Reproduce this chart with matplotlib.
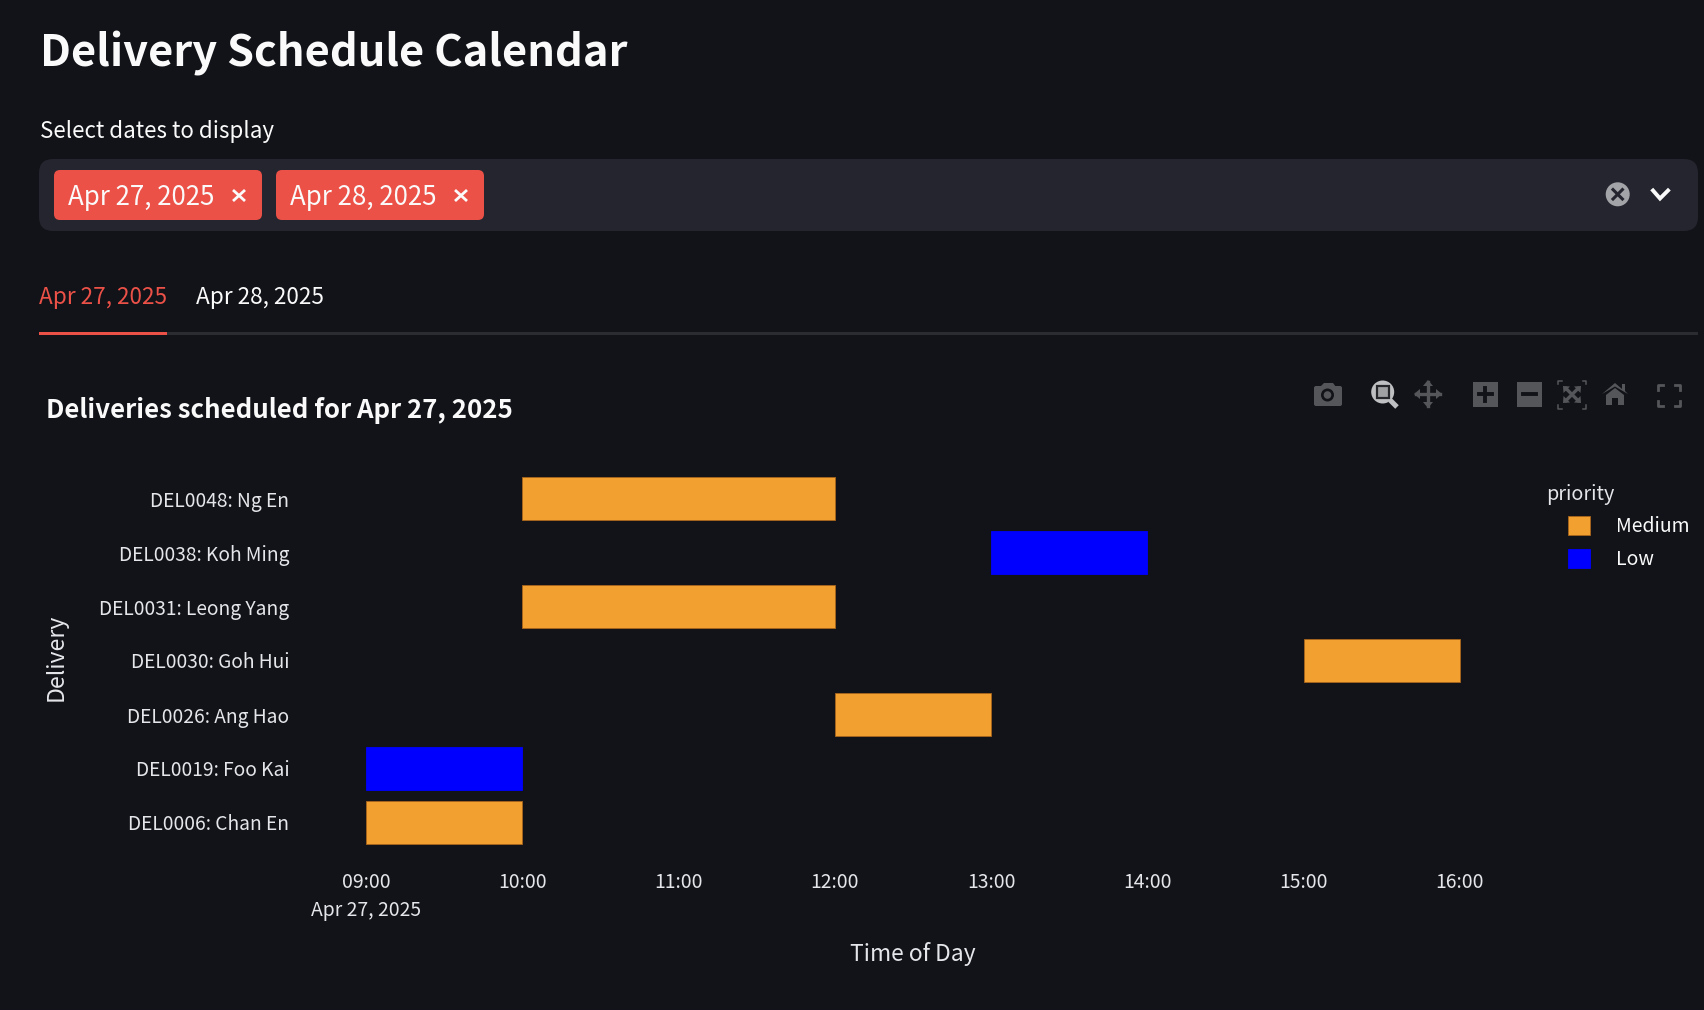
import pandas as pd
import matplotlib
matplotlib.use("Agg")
import matplotlib.pyplot as plt
import matplotlib.dates as mdates
from matplotlib.patches import FancyBboxPatch, Rectangle, Circle, Polygon, Patch

plt.rcParams['font.family'] = ['Noto Sans CJK JP', 'DejaVu Sans']

# Entregas del dia
deliveries = ["DEL0006: Chan En", "DEL0019: Foo Kai", "DEL0026: Ang Hao", "DEL0030: Goh Hui",
              "DEL0031: Leong Yang", "DEL0038: Koh Ming", "DEL0048: Ng En"]
start_times = ["09:00", "09:00", "12:00", "15:00", "10:00", "13:00", "10:00"]
end_times = ["10:00", "10:00", "13:00", "16:00", "12:00", "14:00", "12:00"]
priorities = ["Medium", "Low", "Medium", "Medium", "Medium", "Low", "Medium"]
tick_hours = ["09:00", "10:00", "11:00", "12:00", "13:00", "14:00", "15:00", "16:00"]
day = "2025-04-27"
day_label = "Apr 27, 2025"
legend_order = ["Medium", "Low"]

BG = "#111318"
PANEL = "#24252e"
RED = "#ec5148"
ORANGE = "#f2a030"
BLUE = "#0000ff"
TEXT = "#fafafa"
AXTEXT = "#e4e6ea"
ICON = "#55565a"
colors = {"Medium": ORANGE, "Low": BLUE}
edges = {"Medium": "#a9661c", "Low": BLUE}

W, H = 1704, 1010
fig = plt.figure(figsize=(W / 100, H / 100), dpi=100, facecolor=BG)


def px(v):
    return v * 0.72


# Grafica principal
left, right, top, bottom = 297, 1529, 471.5, 849.5
ax = fig.add_axes([left / W, 1 - bottom / H, (right - left) / W, (bottom - top) / H], facecolor=BG)

t0 = pd.to_datetime([f"{day} {t}" for t in start_times])
t1 = pd.to_datetime([f"{day} {t}" for t in end_times])
x0 = mdates.date2num(t0)
x1 = mdates.date2num(t1)
ax.barh(deliveries, x1 - x0, left=x0, height=0.8,
        color=[colors[p] for p in priorities],
        edgecolor=[edges[p] for p in priorities], linewidth=0.6)

ticks = mdates.date2num(pd.to_datetime([f"{day} {t}" for t in tick_hours]))
hour = ticks[1] - ticks[0]
ax.set_xlim(ticks[0] - hour * 69 / 156.2, ticks[-1] + hour * 69.2 / 156.2)
ax.set_ylim(-0.5, 6.5)
ax.set_xticks(ticks)
ax.set_xticklabels([tick_hours[0] + "\n" + day_label] + tick_hours[1:], linespacing=1.45)
for s in ax.spines.values():
    s.set_visible(False)
ax.tick_params(axis="x", length=0, pad=16.2, labelsize=px(19.4), labelcolor=AXTEXT)
ax.tick_params(axis="y", length=0, pad=5.4, labelsize=px(19.2), labelcolor=AXTEXT)

# Leyenda de prioridad
handles = [Patch(facecolor=colors[p], edgecolor=edges[p], linewidth=0.6) for p in legend_order]
ax.legend(handles, legend_order, loc="upper left", bbox_to_anchor=(1568 / W, 1 - 516 / H),
          bbox_transform=fig.transFigure, frameon=False, borderpad=0, borderaxespad=0,
          fontsize=px(19.4), labelcolor=TEXT, handlelength=1.13, handleheight=1.13,
          handletextpad=1.33, labelspacing=0.62)

# Capa de la interfaz, en pixeles
ui = fig.add_axes([0, 0, 1, 1], facecolor="none", zorder=5)
ui.set_xlim(0, W)
ui.set_ylim(H, 0)
ui.axis("off")


def label(x, y, s, size, color=TEXT, weight="normal", ha="left", va="baseline", rotation=0):
    ui.text(x, y, s, fontsize=px(size), color=color, fontweight=weight, ha=ha, va=va, rotation=rotation)


def rounded(x, y, w, h, r, color):
    ui.add_patch(FancyBboxPatch((x + r, y + r), w - 2 * r, h - 2 * r,
                                boxstyle=f"round,pad={r},rounding_size={r}",
                                facecolor=color, edgecolor="none"))


label(39.5, 67, "Delivery Schedule Calendar", 43.4, weight="bold")
label(39.5, 138, "Select dates to display", 22.4)

rounded(39, 159, 1659, 72, 14, PANEL)
for cx, txt in [(54, "Apr 27, 2025"), (276, "Apr 28, 2025")]:
    rounded(cx, 170, 208, 50, 6, RED)
    label(cx + 14.5, 205, txt, 25.9)
    ui.plot([cx + 179, cx + 191], [190, 201], color=TEXT, lw=2.0, solid_capstyle="butt")
    ui.plot([cx + 179, cx + 191], [201, 190], color=TEXT, lw=2.0, solid_capstyle="butt")

# Boton de limpiar y flecha
ui.add_patch(Circle((1617.7, 194.3), 12, facecolor="#a3a4a8", edgecolor="none"))
ui.plot([1613, 1622.4], [189.6, 199], color=PANEL, lw=2.2)
ui.plot([1613, 1622.4], [199, 189.6], color=PANEL, lw=2.2)
ui.plot([1653, 1660, 1668], [190.5, 198.5, 190.5], color=TEXT, lw=2.8, solid_joinstyle="miter")

# Pestanas
label(39, 304, "Apr 27, 2025", 22.6, color=RED)
label(195.5, 304, "Apr 28, 2025", 22.6)
ui.add_patch(Rectangle((39, 332), 1659, 2.6, facecolor="#2b2c32", edgecolor="none"))
ui.add_patch(Rectangle((39, 332), 128, 2.6, facecolor=RED, edgecolor="none"))

label(46.5, 418.5, f"Deliveries scheduled for {day_label}", 25.8, weight="bold")
label(56.5, 657, "Delivery", 23, color=AXTEXT, ha="center", va="center", rotation=90)
label(913, 954, "Time of Day", 22.8, color=AXTEXT, ha="center", va="center")
label(1546, 500, "priority", 19.8, color=AXTEXT)

# Barra de herramientas
ui.add_patch(FancyBboxPatch((1315, 387), 26, 18, boxstyle="round,pad=1,rounding_size=2", facecolor=ICON, edgecolor="none"))
ui.add_patch(Polygon([(1320, 387), (1324, 383), (1333, 383), (1336, 387)], facecolor=ICON, edgecolor="none"))
ui.add_patch(Circle((1327.5, 395), 6.5, facecolor=BG, edgecolor="none"))
ui.add_patch(Circle((1327.5, 395), 3.8, facecolor=ICON, edgecolor="none"))

ui.plot([1390, 1397], [400, 407], color="#bfc0c2", lw=3.6, solid_capstyle="butt")
ui.add_patch(Circle((1382.7, 392), 11.5, facecolor="#bfc0c2", edgecolor="none"))
ui.add_patch(Rectangle((1377, 386), 11.5, 11.5, facecolor="#a0a1a3", edgecolor="#26272b", lw=1.6))

ui.plot([1416, 1440], [394, 394], color=ICON, lw=2.4)
ui.plot([1428, 1428], [382, 406], color=ICON, lw=2.4)
for tri in [[(1414, 394), (1420, 389), (1420, 399)], [(1442, 394), (1436, 389), (1436, 399)],
            [(1428, 380), (1423, 386), (1433, 386)], [(1428, 408), (1423, 402), (1433, 402)]]:
    ui.add_patch(Polygon(tri, facecolor=ICON, edgecolor="none"))

ui.add_patch(Rectangle((1472.7, 381.7), 25.3, 25.3, facecolor=ICON, edgecolor="none"))
ui.plot([1479, 1492], [394.3, 394.3], color=BG, lw=2.8)
ui.plot([1485.3, 1485.3], [388, 401], color=BG, lw=2.8)
ui.add_patch(Rectangle((1516.7, 381.7), 25.3, 25.3, facecolor=ICON, edgecolor="none"))
ui.plot([1523, 1536], [394.3, 394.3], color=BG, lw=2.8)

# Autoescala y pantalla completa: esquinas en corchete
for (a, b, c, d, lw, n) in [(1558, 1586, 380.5, 408.5, 1.1, 3.5), (1658, 1680, 384.5, 405.5, 2.0, 5.0)]:
    ui.plot([a + n, a, a], [c, c, c + n], color=ICON, lw=lw)
    ui.plot([b - n, b, b], [c, c, c + n], color=ICON, lw=lw)
    ui.plot([a + n, a, a], [d, d, d - n], color=ICON, lw=lw)
    ui.plot([b - n, b, b], [d, d, d - n], color=ICON, lw=lw)
ui.plot([1566, 1578], [388.5, 400.5], color=ICON, lw=2.4)
ui.plot([1566, 1578], [400.5, 388.5], color=ICON, lw=2.4)
for tri in [[(1563, 386), (1570, 386.5), (1563.5, 393)], [(1581, 386), (1574, 386.5), (1580.5, 393)],
            [(1563, 403), (1570, 402.5), (1563.5, 396)], [(1581, 403), (1574, 402.5), (1580.5, 396)]]:
    ui.add_patch(Polygon(tri, facecolor=ICON, edgecolor="none"))

ui.add_patch(Polygon([(1602, 394), (1615, 383), (1622, 389), (1622, 384), (1625, 384), (1625, 391), (1628, 394),
                      (1615, 386.5)], facecolor=ICON, edgecolor="none"))
ui.add_patch(Polygon([(1606, 395), (1615, 388), (1624, 395), (1624, 405), (1618, 405), (1618, 398), (1612, 398),
                      (1612, 405), (1606, 405)], facecolor=ICON, edgecolor="none"))

fig.savefig("out.png", dpi=100, facecolor=BG)
